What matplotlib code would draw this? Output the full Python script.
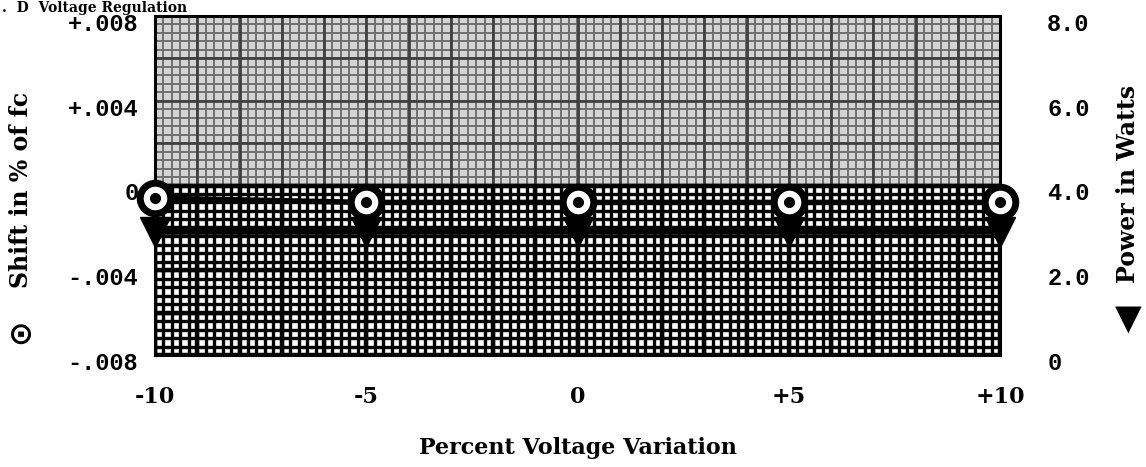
import matplotlib
matplotlib.use("Agg")
import matplotlib.pyplot as plt
import matplotlib.transforms as mtransforms
import numpy as np

# values
voltage_pct = [-10, -5, 0, 5, 10]
freq_shift = [-0.0006, -0.0008, -0.0008, -0.0008, -0.0008]   # % of fc
power_w = [2.9, 2.9, 2.9, 2.9, 2.9]                          # watts

x_ticks = [-10, -5, 0, 5, 10]
x_labels = ["-10", "-5", "0", "+5", "+10"]
shift_ticks = [-0.008, -0.004, 0, 0.004, 0.008]
shift_labels = ["-.008", "-.004", "0", "+.004", "+.008"]
power_ticks = [0, 2, 4, 6, 8]
power_labels = ["0", "2.0", "4.0", "6.0", "8.0"]

SERIF = ["DejaVu Serif", "DejaVu Sans"]
MONO = ["Liberation Mono", "DejaVu Sans Mono"]

fig = plt.figure(figsize=(11.46, 4.67), dpi=100)
ax = fig.add_axes([155 / 1146, 112 / 467, 845 / 1146, 339 / 467])
ax.set_xlim(-10, 10)
ax.set_ylim(-0.008, 0.008)

# graph paper: pale upper half, dark lower half
xs_minor = np.arange(-10, 10.01, 0.2)
xs_major = np.arange(-10, 10.01, 1.0)
ys_up_minor = np.arange(0, 0.00801, 0.0004)
ys_up_major = np.arange(0, 0.00801, 0.002)
ys_lo_minor = np.arange(-0.008, 0.00001, 0.0004)
ys_lo_major = np.arange(-0.008, 0.00001, 0.002)

ax.axhspan(0, 0.008, color="#d4d4d4", zorder=0)
ax.vlines(xs_minor, 0, 0.008, color="#707070", lw=1.4, zorder=1)
ax.hlines(ys_up_minor, -10, 10, color="#707070", lw=1.4, zorder=1)
ax.vlines(xs_major, 0, 0.008, color="#404040", lw=2.0, zorder=1)
ax.hlines(ys_up_major, -10, 10, color="#404040", lw=2.0, zorder=1)

ax.vlines(xs_minor, -0.008, 0, color="black", lw=2.4, zorder=1)
ax.hlines(ys_lo_minor, -10, 10, color="black", lw=2.4, zorder=1)
ax.vlines(xs_major, -0.008, 0, color="black", lw=3.2, zorder=1)
ax.hlines(ys_lo_major, -10, 10, color="black", lw=3.2, zorder=1)
ax.axhline(0, color="black", lw=3.0, zorder=2)

for s in ax.spines.values():
    s.set_linewidth(2.2)
    s.set_color("black")

ax.set_xticks(x_ticks)
ax.set_xticklabels(x_labels, family=SERIF, fontweight="bold", fontsize=16)
ax.set_yticks(shift_ticks)
ax.set_yticklabels(shift_labels, family=MONO, fontweight="bold", fontsize=17)
ax.tick_params(axis="x", length=0, pad=22)
ax.tick_params(axis="y", length=0, pad=12)

ax2 = ax.twinx()
ax2.set_ylim(0, 8)
ax2.set_yticks(power_ticks)
ax2.set_yticklabels(power_labels, family=MONO, fontweight="bold", fontsize=17)
ax2.tick_params(axis="y", length=0, pad=34)
for s in ax2.spines.values():
    s.set_visible(False)

# the typed labels sit a little below their grid lines
shift_down = mtransforms.ScaledTranslation(0, -6 / 100, fig.dpi_scale_trans)
for lab in ax.get_yticklabels() + ax2.get_yticklabels():
    lab.set_transform(lab.get_transform() + shift_down)

# data
ax.plot(voltage_pct, freq_shift, color="black", lw=4, zorder=5, clip_on=False)
ax.plot(voltage_pct, freq_shift, ls="none", marker="o", ms=22, mfc="white",
        mec="black", mew=5, zorder=6, clip_on=False)
ax.plot(voltage_pct, freq_shift, ls="none", marker="o", ms=7, color="black",
        zorder=7, clip_on=False)
ax2.plot(voltage_pct, power_w, color="black", lw=4, zorder=5, clip_on=False)
ax2.plot(voltage_pct, power_w, ls="none", marker="v", ms=21, color="black",
         zorder=6, clip_on=False)

# axis titles
fig.text(578 / 1146, 1 - 448 / 467, "Percent Voltage Variation", ha="center",
         va="center", family=SERIF, fontweight="bold", fontsize=16)
fig.text(21 / 1146, 1 - 190 / 467, "Shift in % of fc", rotation=90, ha="center",
         va="center", family=SERIF, fontweight="bold", fontsize=17)
fig.text(21 / 1146, 1 - 331 / 467, "\u2299", rotation=90, ha="center",
         va="center", family=["DejaVu Sans"], fontweight="bold", fontsize=22)
fig.text(1128 / 1146, 1 - 184 / 467, "Power in Watts", rotation=90, ha="center",
         va="center", family=SERIF, fontweight="bold", fontsize=17)
fig.text(1128 / 1146, 1 - 319 / 467, "\u25bc", ha="center",
         va="center", family=["DejaVu Sans"], fontsize=25)

# heading at the very top of the scan (cut off there, kept small here)
fig.text(2 / 1146, 1 - 1 / 467, ".  D  Voltage Regulation", ha="left",
         va="top", family=SERIF, fontweight="bold", fontsize=10)

fig.savefig("out.png", dpi=100)
